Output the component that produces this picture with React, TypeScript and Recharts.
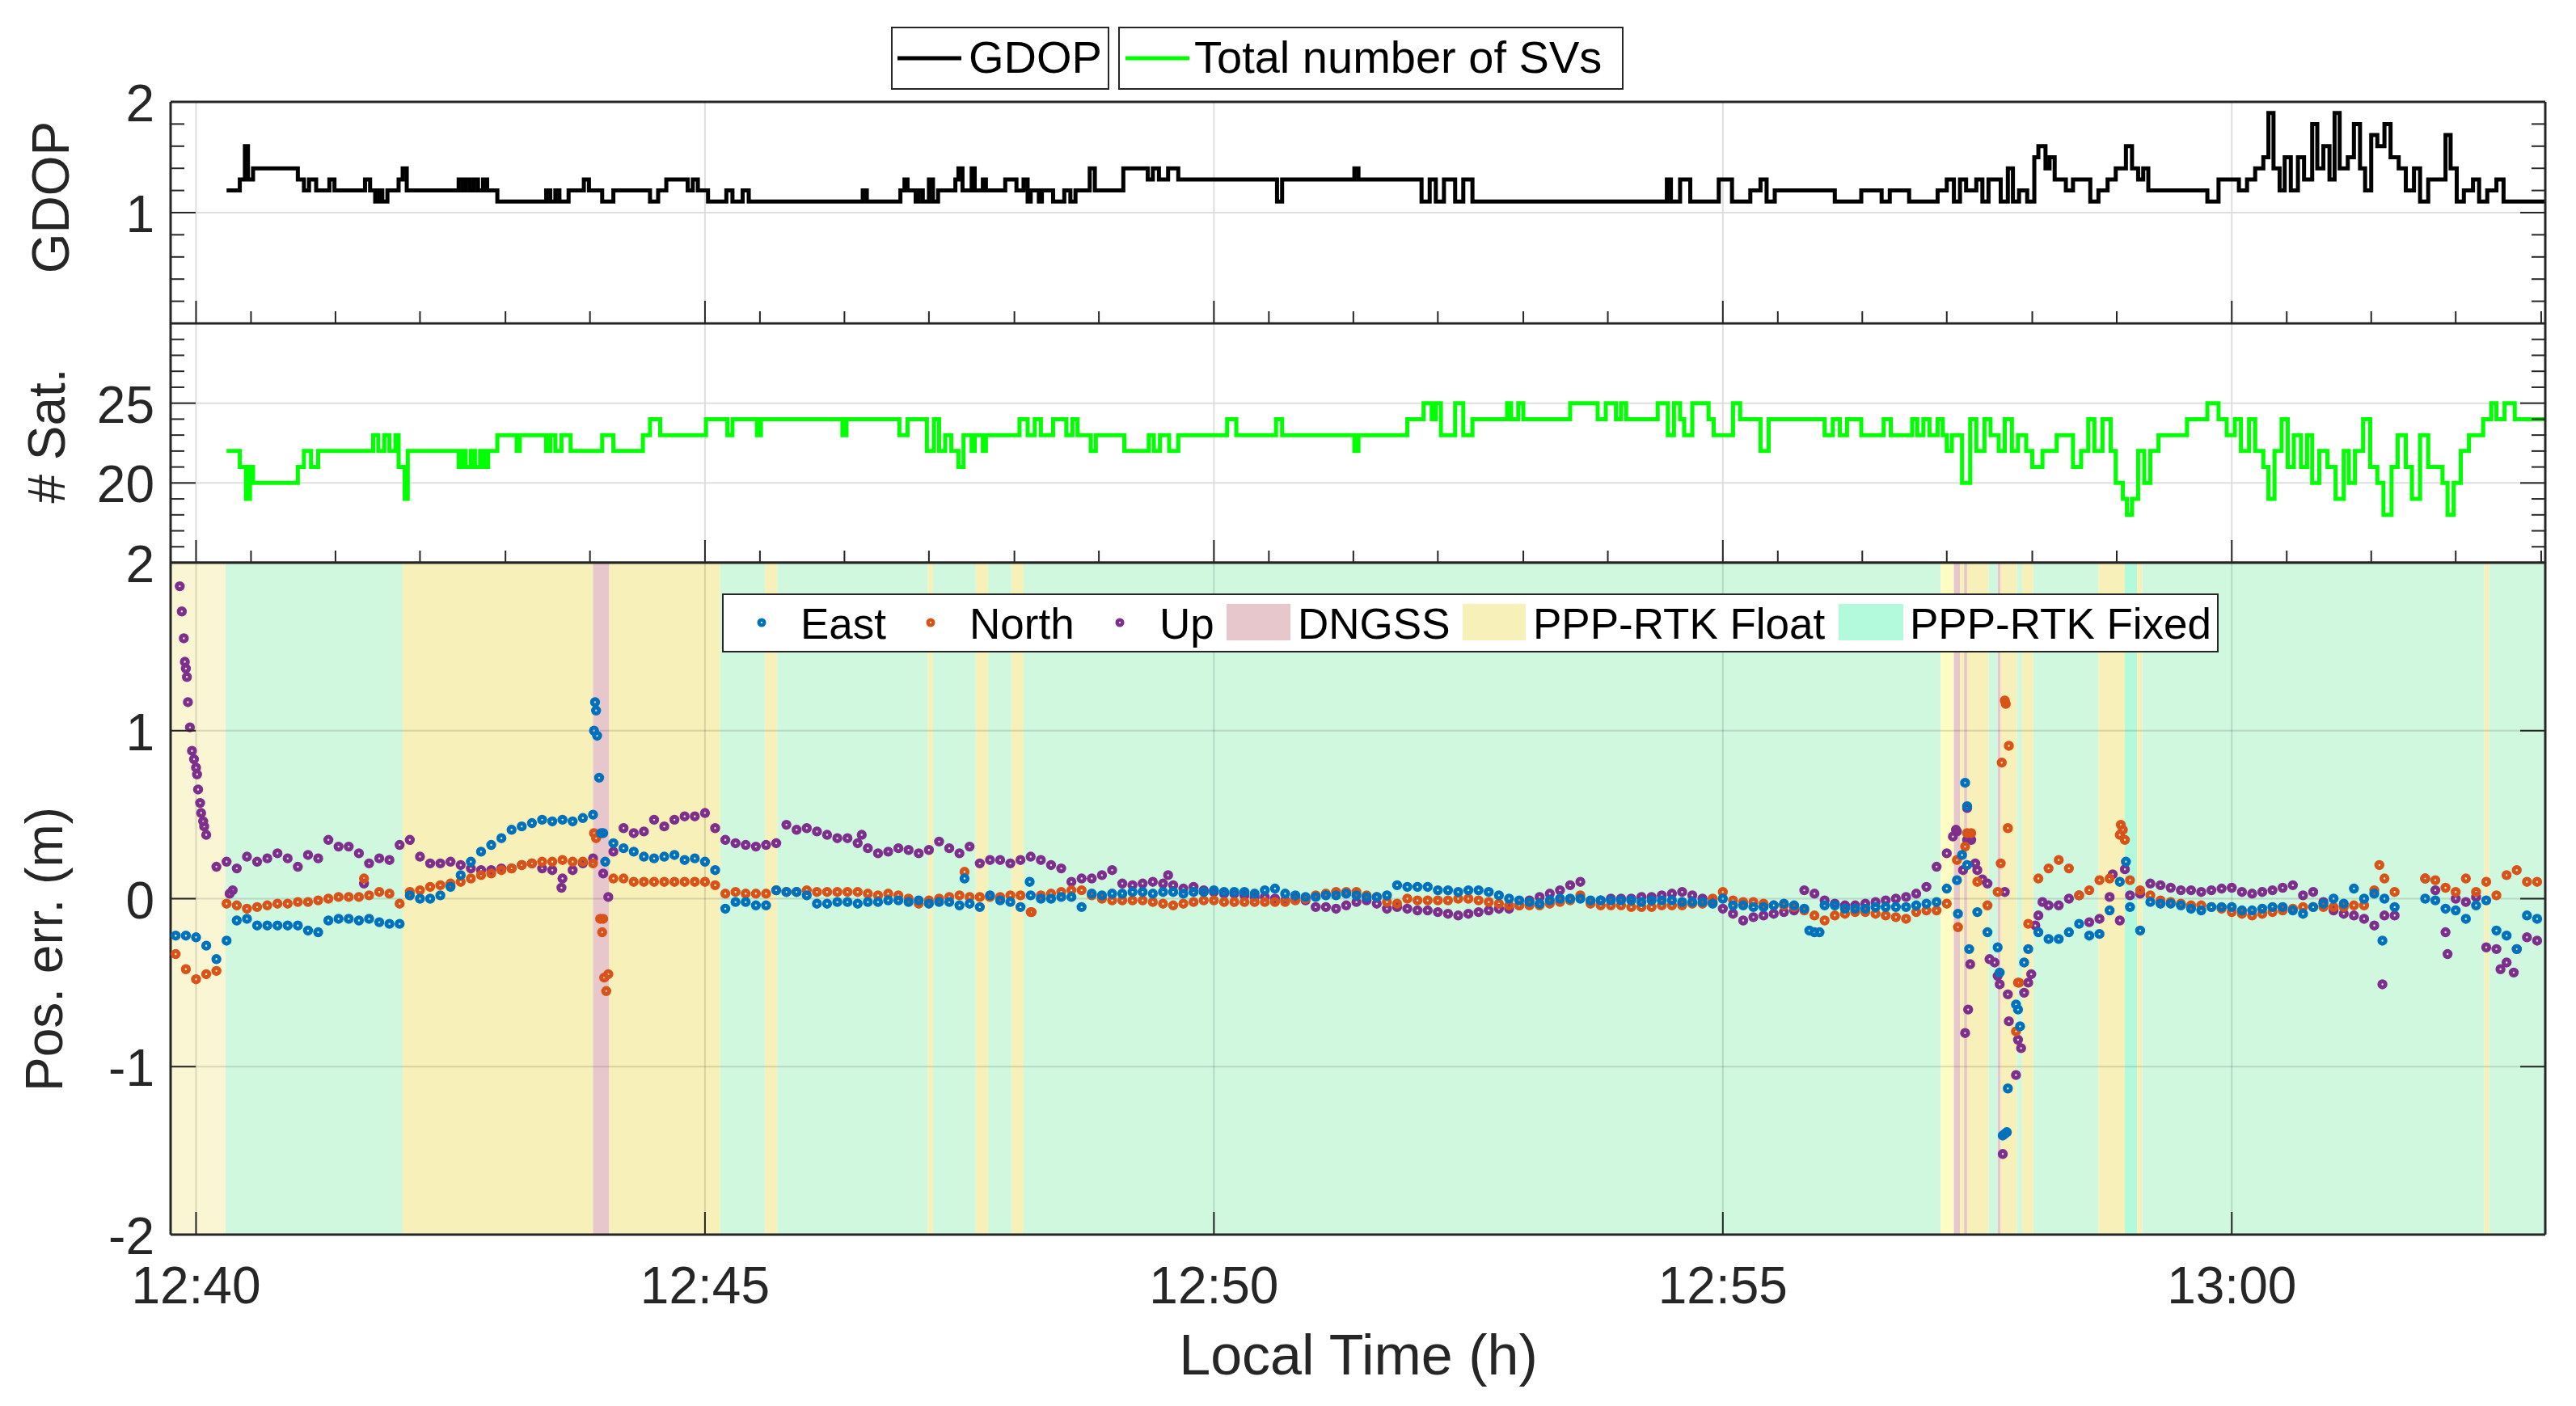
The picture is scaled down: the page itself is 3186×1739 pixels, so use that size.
import { ComposedChart, Line, ReferenceArea, ReferenceLine, Scatter, XAxis, YAxis } from 'recharts';

const FONT = '"Liberation Sans", Arial, Helvetica, sans-serif';
const INK = '#262626';
const PAGE_W = 3186;
const PAGE_H = 1739;
const PLOT_RIGHT = 3148;
const Y_AXIS_W = 211;
const TICK_GAP = 10;

// time axis in minutes after 12:40
const T_MIN = -0.25;
const T_MAX = 23.08;
const majorTicks = [0, 5, 10, 15, 20];
const tickLabels = ['12:40', '12:45', '12:50', '12:55', '13:00'];
const minorTicks = [0.54, 1.37, 2.2, 3.04, 3.87, 5.54, 6.37, 7.2, 8.04, 8.87, 10.54, 11.37, 12.2, 13.04, 13.87, 15.54, 16.37, 17.2, 18.04, 18.87, 20.54, 21.37, 22.2, 23.04];

const gdopMajor = [1, 2];
const gdopMinor = [0.2, 0.4, 0.6, 0.8, 1.2, 1.4, 1.6, 1.8];
const satMajor = [20, 25];
const satMinor = [16, 17, 18, 19, 21, 22, 23, 24, 26, 27, 28, 29];
const errMajor = [-2, -1, 0, 1, 2];

// GDOP (step changes)
const gdopTime = [
  0.3, 0.43, 0.48, 0.51, 0.56, 1.0, 1.06, 1.11, 1.18, 1.31,
  1.36, 1.66, 1.71, 1.76, 1.8, 1.83, 1.88, 1.99, 2.03, 2.07,
  2.58, 2.62, 2.65, 2.69, 2.73, 2.77, 2.82, 2.86, 2.96, 3.44,
  3.48, 3.53, 3.57, 3.66, 3.81, 3.86, 3.99, 4.1, 4.46, 4.54,
  4.62, 4.83, 4.88, 4.93, 5.03, 5.21, 5.27, 5.37, 5.43, 6.55,
  6.59, 6.92, 6.96, 6.99, 7.07, 7.1, 7.14, 7.2, 7.24, 7.29,
  7.46, 7.49, 7.53, 7.62, 7.65, 7.73, 7.76, 7.95, 8.06, 8.13,
  8.17, 8.2, 8.28, 8.31, 8.42, 8.53, 8.59, 8.64, 8.78, 8.83,
  9.11, 9.35, 9.4, 9.46, 9.55, 9.65, 10.62, 10.67, 11.38, 11.42,
  12.04, 12.12, 12.18, 12.26, 12.37, 12.45, 12.54, 14.45, 14.49, 14.58,
  14.68, 14.96, 15.09, 15.27, 15.37, 15.43, 15.51, 16.1, 16.36, 16.56,
  16.64, 16.83, 17.11, 17.2, 17.27, 17.33, 17.39, 17.49, 17.55, 17.61,
  17.73, 17.8, 17.85, 17.91, 17.99, 18.06, 18.1, 18.17, 18.21, 18.26,
  18.37, 18.44, 18.61, 18.69, 18.78, 18.86, 18.96, 19.02, 19.08, 19.13,
  19.18, 19.76, 19.87, 20.07, 20.15, 20.23, 20.31, 20.36, 20.41, 20.47,
  20.52, 20.58, 20.65, 20.71, 20.79, 20.84, 20.9, 20.96, 21.01, 21.06,
  21.14, 21.2, 21.26, 21.31, 21.37, 21.43, 21.5, 21.56, 21.64, 21.71,
  21.79, 21.85, 21.93, 22.1, 22.15, 22.21, 22.28, 22.37, 22.43, 22.51,
  22.6, 22.67, 23.08,
];
const gdopValue = [
  1.2, 1.3, 1.6, 1.3, 1.4, 1.3, 1.2, 1.3, 1.2, 1.3,
  1.2, 1.3, 1.2, 1.1, 1.2, 1.1, 1.2, 1.3, 1.4, 1.2,
  1.3, 1.2, 1.3, 1.2, 1.3, 1.2, 1.3, 1.2, 1.1, 1.2,
  1.1, 1.2, 1.1, 1.2, 1.3, 1.2, 1.1, 1.2, 1.1, 1.2,
  1.3, 1.2, 1.3, 1.2, 1.1, 1.2, 1.1, 1.2, 1.1, 1.2,
  1.1, 1.2, 1.3, 1.2, 1.1, 1.2, 1.1, 1.3, 1.1, 1.2,
  1.3, 1.4, 1.2, 1.4, 1.2, 1.3, 1.2, 1.3, 1.2, 1.3,
  1.1, 1.2, 1.1, 1.2, 1.1, 1.2, 1.1, 1.2, 1.4, 1.2,
  1.4, 1.3, 1.4, 1.3, 1.4, 1.3, 1.1, 1.3, 1.4, 1.3,
  1.1, 1.3, 1.1, 1.3, 1.1, 1.3, 1.1, 1.3, 1.1, 1.3,
  1.1, 1.3, 1.1, 1.2, 1.3, 1.1, 1.2, 1.1, 1.2, 1.1,
  1.2, 1.1, 1.2, 1.3, 1.1, 1.3, 1.2, 1.3, 1.1, 1.3,
  1.1, 1.4, 1.1, 1.2, 1.1, 1.5, 1.6, 1.4, 1.5, 1.3,
  1.2, 1.3, 1.1, 1.2, 1.3, 1.4, 1.6, 1.4, 1.3, 1.4,
  1.2, 1.1, 1.3, 1.2, 1.3, 1.4, 1.5, 1.9, 1.4, 1.2,
  1.5, 1.2, 1.5, 1.3, 1.8, 1.4, 1.6, 1.3, 1.9, 1.4,
  1.5, 1.8, 1.4, 1.2, 1.7, 1.6, 1.8, 1.5, 1.4, 1.2,
  1.4, 1.1, 1.3, 1.7, 1.4, 1.1, 1.2, 1.3, 1.1, 1.2,
  1.3, 1.1, 1.1,
];

// total number of SVs (step changes)
const satTime = [
  0.3, 0.43, 0.49, 0.53, 0.56, 1.0, 1.06, 1.13, 1.2, 1.74,
  1.79, 1.85, 1.9, 1.96, 1.99, 2.05, 2.08, 2.58, 2.62, 2.65,
  2.7, 2.74, 2.79, 2.83, 2.87, 2.96, 3.15, 3.18, 3.44, 3.48,
  3.53, 3.59, 3.68, 3.99, 4.1, 4.39, 4.46, 4.56, 5.01, 5.22,
  5.27, 5.51, 5.55, 6.35, 6.39, 6.91, 6.99, 7.18, 7.25, 7.3,
  7.36, 7.42, 7.49, 7.54, 7.62, 7.65, 7.73, 7.76, 8.09, 8.17,
  8.24, 8.3, 8.42, 8.55, 8.61, 8.66, 8.79, 8.84, 9.12, 9.36,
  9.41, 9.47, 9.56, 9.65, 10.13, 10.22, 10.61, 10.67, 11.38, 11.42,
  11.9, 12.06, 12.14, 12.18, 12.23, 12.37, 12.45, 12.54, 12.88, 12.92,
  12.99, 13.04, 13.5, 13.77, 13.85, 13.95, 14.0, 14.05, 14.36, 14.46,
  14.52, 14.58, 14.62, 14.7, 14.86, 14.91, 15.1, 15.17, 15.37, 15.45,
  16.0, 16.08, 16.15, 16.22, 16.36, 16.58, 16.65, 16.86, 16.91, 16.97,
  17.03, 17.11, 17.16, 17.2, 17.25, 17.35, 17.43, 17.49, 17.57, 17.63,
  17.71, 17.77, 17.84, 17.9, 17.98, 18.04, 18.14, 18.28, 18.44, 18.52,
  18.59, 18.65, 18.73, 18.81, 18.86, 18.93, 18.97, 19.02, 19.08, 19.14,
  19.2, 19.28, 19.56, 19.76, 19.87, 19.95, 20.03, 20.09, 20.17, 20.23,
  20.31, 20.36, 20.42, 20.49, 20.55, 20.61, 20.68, 20.74, 20.79, 20.86,
  20.94, 21.02, 21.1, 21.15, 21.21, 21.29, 21.36, 21.43, 21.49, 21.57,
  21.63, 21.71, 21.77, 21.85, 21.93, 22.07, 22.12, 22.18, 22.25, 22.33,
  22.47, 22.55, 22.6, 22.68, 22.78, 23.08,
];
const satCount = [
  22, 21, 19, 21, 20, 21, 22, 21, 22, 23,
  22, 23, 22, 23, 21, 19, 22, 21, 22, 21,
  22, 21, 22, 21, 22, 23, 22, 23, 22, 23,
  22, 23, 22, 23, 22, 23, 24, 23, 24, 23,
  24, 23, 24, 23, 24, 23, 24, 22, 24, 22,
  23, 22, 21, 23, 22, 23, 22, 23, 24, 23,
  24, 23, 24, 23, 24, 23, 22, 23, 22, 23,
  22, 23, 22, 23, 24, 23, 24, 23, 22, 23,
  24, 25, 24, 25, 23, 25, 23, 24, 25, 24,
  25, 24, 25, 24, 25, 24, 25, 24, 25, 23,
  25, 24, 23, 25, 24, 23, 25, 24, 22, 24,
  23, 24, 23, 24, 23, 24, 23, 24, 23, 24,
  23, 24, 23, 22, 23, 20, 24, 22, 24, 23,
  22, 24, 22, 23, 22, 21, 22, 23, 21, 22,
  24, 22, 24, 22, 20, 19, 18, 19, 22, 20,
  22, 23, 24, 25, 24, 23, 24, 22, 24, 22,
  21, 19, 22, 24, 21, 23, 21, 23, 20, 22,
  21, 19, 22, 20, 22, 24, 21, 20, 18, 21,
  23, 21, 19, 23, 21, 20, 18, 20, 22, 23,
  24, 25, 24, 25, 24, 24,
];

// position error samples (m), one row per minute
const errTime = [
  -0.2, -0.1,
  0, 0.1, 0.2, 0.3, 0.4, 0.5, 0.6, 0.7, 0.8, 0.9,
  1, 1.1, 1.2, 1.3, 1.4, 1.5, 1.6, 1.7, 1.8, 1.9,
  2, 2.1, 2.2, 2.3, 2.4, 2.5, 2.6, 2.7, 2.8, 2.9,
  3, 3.1, 3.2, 3.3, 3.4, 3.5, 3.6, 3.7, 3.8, 3.9,
  4, 4.1, 4.2, 4.3, 4.4, 4.5, 4.6, 4.7, 4.8, 4.9,
  5, 5.1, 5.2, 5.3, 5.4, 5.5, 5.6, 5.7, 5.8, 5.9,
  6, 6.1, 6.2, 6.3, 6.4, 6.5, 6.6, 6.7, 6.8, 6.9,
  7, 7.1, 7.2, 7.3, 7.4, 7.5, 7.6, 7.7, 7.8, 7.9,
  8, 8.1, 8.2, 8.3, 8.4, 8.5, 8.6, 8.7, 8.8, 8.9,
  9, 9.1, 9.2, 9.3, 9.4, 9.5, 9.6, 9.7, 9.8, 9.9,
  10, 10.1, 10.2, 10.3, 10.4, 10.5, 10.6, 10.7, 10.8, 10.9,
  11, 11.1, 11.2, 11.3, 11.4, 11.5, 11.6, 11.7, 11.8, 11.9,
  12, 12.1, 12.2, 12.3, 12.4, 12.5, 12.6, 12.7, 12.8, 12.9,
  13, 13.1, 13.2, 13.3, 13.4, 13.5, 13.6, 13.7, 13.8, 13.9,
  14, 14.1, 14.2, 14.3, 14.4, 14.5, 14.6, 14.7, 14.8, 14.9,
  15, 15.1, 15.2, 15.3, 15.4, 15.5, 15.6, 15.7, 15.8, 15.9,
  16, 16.1, 16.2, 16.3, 16.4, 16.5, 16.6, 16.7, 16.8, 16.9,
  17, 17.1, 17.2, 17.3, 17.4, 17.5, 17.6, 17.7, 17.8, 17.9,
  18, 18.1, 18.2, 18.3, 18.4, 18.5, 18.6, 18.7, 18.8, 18.9,
  19, 19.1, 19.2, 19.3, 19.4, 19.5, 19.6, 19.7, 19.8, 19.9,
  20, 20.1, 20.2, 20.3, 20.4, 20.5, 20.6, 20.7, 20.8, 20.9,
  21, 21.1, 21.2, 21.3, 21.4, 21.5, 21.6, 21.7, 21.8, 21.9,
  22, 22.1, 22.2, 22.3, 22.4, 22.5, 22.6, 22.7, 22.8, 22.9,
  23,
];
const eastErr = [
  -0.22, -0.22,
  -0.23, -0.28, -0.36, -0.25, -0.13, -0.12, -0.16, -0.16, -0.16, -0.16,
  -0.16, -0.19, -0.2, -0.13, -0.12, -0.12, -0.13, -0.12, -0.14, -0.15,
  -0.15, 0.02, 0, 0, 0.02, 0.07, 0.14, 0.22, 0.28, 0.32,
  0.36, 0.41, 0.43, 0.45, 0.47, 0.46, 0.47, 0.46, 0.48, 0.5,
  0.39, 0.33, 0.3, 0.28, 0.25, 0.24, 0.25, 0.26, 0.23, 0.24,
  0.22, 0.17, -0.06, -0.02, -0.02, -0.04, -0.04, 0.05, 0.04, 0.04,
  0.02, -0.03, -0.03, -0.02, -0.02, -0.03, -0.02, -0.02, -0.01, -0.01,
  -0.02, -0.01, -0.03, -0.02, -0.02, -0.04, -0.03, -0.05, 0.02, -0.01,
  -0.02, -0.05, 0.02, 0, 0, 0.01, 0.01, -0.05, 0.03, 0.02,
  0.03, 0.03, 0.04, 0.04, 0.03, 0.04, 0.04, 0.03, 0.04, 0.04,
  0.05, 0.04, 0.04, 0.04, 0.03, 0.05, 0.06, 0.03, 0.02, 0.01,
  0.01, 0.02, 0.02, 0.03, 0.02, 0.01, 0.01, 0.02, 0.08, 0.07,
  0.07, 0.07, 0.05, 0.05, 0.04, 0.05, 0.05, 0.04, 0.02, 0,
  -0.01, -0.02, -0.03, -0.01, 0, 0, 0, -0.01, -0.01, -0.01,
  -0.01, -0.01, -0.02, -0.01, -0.01, -0.01, -0.02, -0.02, -0.02, -0.03,
  0, -0.04, -0.04, -0.05, -0.05, -0.04, -0.03, -0.04, -0.06, -0.2,
  -0.04, -0.04, -0.06, -0.06, -0.06, -0.05, -0.05, -0.05, -0.05, -0.04,
  -0.03, -0.02, 0.06, 0.11, 0.2, -0.08, -0.2, -0.29, -1.13, -0.66,
  -0.3, -0.2, -0.24, -0.24, -0.2, -0.15, -0.22, -0.21, -0.07, 0.1,
  -0.05, -0.19, -0.02, -0.03, -0.03, -0.04, -0.06, -0.07, -0.05, -0.05,
  -0.05, -0.07, -0.07, -0.06, -0.05, -0.05, -0.07, -0.09, -0.05, -0.03,
  0, -0.03, 0.06, 0, 0.03, 0, -0.05, null, null, 0,
  -0.01, -0.06, -0.07, -0.12, -0.04, -0.01, -0.19, -0.22, -0.3, -0.1,
  -0.12,
];
const northErr = [
  -0.33, -0.42,
  -0.48, -0.45, -0.43, -0.03, -0.04, -0.06, -0.05, -0.04, -0.03, -0.03,
  -0.02, -0.02, -0.01, 0, 0.01, 0.01, 0.01, 0.02, 0.04, 0.03,
  -0.03, 0.04, 0.05, 0.07, 0.08, 0.09, 0.1, 0.12, 0.14, 0.15,
  0.17, 0.18, 0.2, 0.21, 0.22, 0.22, 0.23, 0.22, 0.22, 0.21,
  -0.12, 0.12, 0.12, 0.1, 0.1, 0.1, 0.1, 0.1, 0.1, 0.1,
  0.1, 0.08, 0.03, 0.04, 0.03, 0.03, 0.03, 0.05, 0.04, 0.04,
  0.05, 0.04, 0.04, 0.04, 0.04, 0.04, 0.03, 0.02, 0.03, 0.02,
  0, -0.03, -0.01, 0, 0.01, 0.02, 0.01, 0.01, 0.01, 0.01,
  0.02, 0.02, -0.08, 0.02, 0.03, 0.04, 0.05, 0.05, 0.02, 0,
  -0.01, -0.01, -0.01, -0.01, -0.02, -0.03, -0.04, -0.03, -0.02, -0.01,
  -0.01, -0.02, -0.02, -0.02, -0.02, -0.02, -0.02, -0.02, -0.01, 0,
  0.02, 0.03, 0.04, 0.04, 0.04, 0.02, 0.01, -0.02, -0.03, 0,
  -0.01, -0.01, -0.01, -0.01, 0, 0, -0.01, -0.02, -0.03, -0.04,
  -0.04, -0.04, -0.04, -0.03, -0.02, -0.01, 0.02, -0.03, -0.04, -0.04,
  -0.04, -0.05, -0.05, -0.05, -0.04, -0.04, -0.04, -0.03, -0.03, 0,
  0.04, -0.01, -0.02, -0.02, -0.03, -0.04, -0.04, -0.05, -0.07, -0.1,
  -0.13, -0.1, -0.09, -0.08, -0.08, -0.09, -0.1, -0.11, -0.12, -0.08,
  -0.07, -0.07, -0.03, 0.23, 0.39, 0.1, -0.04, 0.04, 0.42, -0.5,
  -0.15, 0.12, 0.18, 0.23, 0.18, 0.02, 0.05, 0.11, 0.12, 0.38,
  0.11, 0.05, 0.02, -0.01, -0.02, -0.03, -0.04, -0.04, -0.05, -0.06,
  -0.08, -0.09, -0.1, -0.09, -0.08, -0.07, -0.06, -0.05, -0.05, -0.05,
  -0.05, -0.05, -0.04, -0.04, 0.05, 0.12, 0.04, null, null, 0.12,
  0.11, 0.065, 0.04, 0.12, 0.04, 0.1, 0.02, 0.14, 0.17, 0.1,
  0.1,
];
const upErr = [
  null, 1.37,
  0.78, 0.38, 0.19, 0.22, 0.18, 0.25, 0.22, 0.24, 0.27, 0.24,
  0.19, 0.26, 0.24, 0.35, 0.31, 0.31, 0.27, 0.21, 0.24, 0.23,
  0.32, 0.35, 0.25, 0.21, 0.21, 0.22, 0.2, 0.18, 0.17, 0.17,
  0.18, 0.18, 0.2, 0.21, 0.18, 0.17, 0.12, 0.17, 0.21, 0.24,
  0.15, 0.28, 0.42, 0.39, 0.4, 0.47, 0.43, 0.47, 0.49, 0.49,
  0.51, 0.42, 0.35, 0.33, 0.32, 0.31, 0.32, 0.33, 0.44, 0.41,
  0.42, 0.4, 0.38, 0.36, 0.36, 0.33, 0.3, 0.27, 0.28, 0.3,
  0.29, 0.27, 0.29, 0.34, 0.3, 0.27, 0.31, 0.21, 0.23, 0.23,
  0.21, 0.23, 0.25, 0.23, 0.2, 0.18, 0.1, 0.12, 0.12, 0.14,
  0.17, 0.09, 0.08, 0.09, 0.1, 0.09, 0.08, 0.06, 0.07, 0.05,
  0.04, 0.03, 0.03, 0.02, 0.01, 0.01, 0, -0.01, 0, -0.01,
  -0.05, -0.05, -0.06, -0.04, -0.02, -0.01, -0.03, -0.06, -0.05, -0.06,
  -0.07, -0.07, -0.08, -0.09, -0.1, -0.09, -0.08, -0.07, -0.06, -0.06,
  -0.04, -0.01, 0.01, 0.03, 0.05, 0.08, 0.1, -0.02, -0.01, 0,
  0, 0, 0.01, 0.01, 0.02, 0.03, 0.04, 0.02, 0, -0.02,
  -0.06, -0.09, -0.13, -0.11, -0.1, -0.09, -0.08, -0.07, 0.05, 0.03,
  -0.01, -0.03, -0.04, -0.04, -0.03, -0.02, -0.01, 0, 0.01, 0.03,
  0.07, 0.19, 0.27, 0.4, 0.35, 0.17, 0.09, -0.46, -0.57, -0.84,
  -0.5, -0.1, -0.04, -0.04, 0, 0.02, -0.14, -0.12, 0.01, -0.13,
  0.02, 0.03, 0.09, 0.08, 0.065, 0.05, 0.05, 0.04, 0.05, 0.06,
  0.065, 0.04, 0.03, 0.04, 0.05, 0.065, 0.08, 0.02, 0.04, -0.02,
  -0.07, -0.09, -0.1, -0.12, -0.16, -0.1, -0.1, null, null, 0.12,
  0.05, -0.2, 0, -0.02, 0.01, -0.29, -0.3, -0.38, -0.3, -0.23,
  -0.25,
];

// isolated samples during convergence and re-initialisation
const eastExtraTime = [3.91, 3.92, 3.93, 3.94, 3.96, 3.98, 4.02, 7.55, 8.19, 15.85, 15.95, 17.31, 17.35, 17.38, 17.4, 17.42, 17.72, 17.75, 17.77, 17.79, 17.88, 17.92, 17.96, 18.96, 21.48];
const eastExtraErr = [1.0, 1.17, 1.12, 0.97, 0.72, 0.39, 0.22, 0.12, 0.1, -0.19, -0.2, -0.09, 0.26, 0.69, 0.55, -0.3, -0.44, -1.41, -1.4, -1.39, -0.63, -0.76, -0.38, 0.22, -0.25];
const northExtraTime = [1.65, 3.91, 3.93, 3.97, 3.99, 4.01, 4.03, 4.05, 7.55, 8.21, 17.31, 17.38, 17.44, 17.73, 17.74, 17.77, 17.78, 17.81, 17.88, 17.91, 18.91, 18.93, 18.95, 21.45];
const northExtraErr = [0.12, 0.39, 0.36, -0.12, -0.2, -0.47, -0.55, -0.45, 0.16, -0.08, -0.17, 0.31, 0.39, 0.21, 0.81, 1.18, 1.16, 0.91, -0.79, -0.5, 0.44, 0.41, 0.35, 0.2];
const upExtraTime = [-0.16, -0.14, -0.12, -0.11, -0.09, -0.08, -0.06, -0.04, -0.02, 0.01, 0.02, 0.04, 0.05, 0.07, 0.08, 0.33, 0.36, 1.65, 3.59, 4.05, 6.54, 9.55, 17.26, 17.29, 17.36, 17.38, 17.4, 17.41, 17.43, 17.44, 17.48, 17.55, 17.62, 17.67, 17.72, 17.75, 17.77, 17.81, 17.88, 17.93, 17.96, 18.03, 18.07, 18.14, 18.83, 18.95, 21.48, 22.12, 22.64, 22.77];
const upExtraErr = [1.86, 1.71, 1.55, 1.41, 1.32, 1.17, 1.02, 0.88, 0.83, 0.74, 0.65, 0.57, 0.51, 0.46, 0.43, 0.03, 0.05, 0.09, 0.065, 0.01, 0.38, 0.14, 0.37, 0.41, 0.17, -0.8, 0.54, -0.66, -0.39, 0.35, 0.21, 0.115, -0.36, -0.38, -0.51, -1.52, 0.04, -0.73, -1.05, -0.89, -0.56, -0.45, -0.16, -0.02, 0.145, 0.175, -0.51, -0.33, -0.42, -0.44];

// solution mode intervals
const bandStart = [-0.25, 0.29, 2.03, 3.9, 4.06, 5.15, 5.59, 5.71, 7.19, 7.24, 7.66, 7.78, 8.01, 8.13, 17.14, 17.27, 17.33, 17.37, 17.4, 17.61, 17.7, 17.73, 17.89, 17.94, 18.05, 18.69, 18.95, 19.07, 19.12, 22.48, 22.53];
const bandEnd = [0.29, 2.03, 3.9, 4.06, 5.15, 5.59, 5.71, 7.19, 7.24, 7.66, 7.78, 8.01, 8.13, 17.14, 17.27, 17.33, 17.37, 17.4, 17.61, 17.7, 17.73, 17.89, 17.94, 18.05, 18.69, 18.95, 19.07, 19.12, 22.48, 22.53, 23.08];
const bandMode = ['start', 'fixed', 'float', 'dngss', 'float', 'fixed', 'float', 'fixed', 'float', 'fixed', 'float', 'fixed', 'float', 'fixed', 'lemon', 'dngss', 'float', 'dngss', 'float', 'fixed', 'dngss', 'float', 'fixed', 'float', 'fixed', 'float', 'fixedHi', 'float', 'fixed', 'float', 'fixed'];

const BAND_FILL: Record<string, string> = {
  start: '#FAF6D3',
  fixed: '#CFF8DF',
  float: '#F7F0B8',
  dngss: '#E7C7CB',
  lemon: '#FDFDC3',
  fixedHi: '#B3F9DC',
};

const EAST = '#0072BD';
const NORTH = '#D95319';
const UP = '#7E2F8E';

type Pt = { t: number; v: number };

function toPoints(times: number[], values: (number | null)[]): Pt[] {
  const pts: Pt[] = [];
  times.forEach((t, i) => {
    const v = values[i];
    if (v !== null && v !== undefined) pts.push({ t, v });
  });
  return pts;
}

const gdopPoints = toPoints(gdopTime, gdopValue);
const satPoints = toPoints(satTime, satCount);
const eastPoints = [...toPoints(errTime, eastErr), ...toPoints(eastExtraTime, eastExtraErr)];
const northPoints = [...toPoints(errTime, northErr), ...toPoints(northExtraTime, northExtraErr)];
const upPoints = [...toPoints(errTime, upErr), ...toPoints(upExtraTime, upExtraErr)];

const allTimeTicks = [...majorTicks, ...minorTicks].sort((a, b) => a - b);
const gdopTicks = [...gdopMajor, ...gdopMinor].sort((a, b) => a - b);
const satTicks = [...satMajor, ...satMinor].sort((a, b) => a - b);

// thick rings with a tiny hole, like MATLAB 'o' markers at this size
const RING_R = 3.7;
const RING_W = 5;
const ring = (color: string) => (props: any) => (
  <circle cx={props.cx} cy={props.cy} r={RING_R} fill="none" stroke={color} strokeWidth={RING_W} />
);

const axisLine = { stroke: INK, strokeWidth: 3 };
const tickText = { fill: INK, fontSize: 64, fontFamily: FONT };

// MATLAB-style inward tick marks, labels only on major values
function TimeTick(props: any) {
  const { x, y, payload, side, labelled } = props;
  const idx = majorTicks.indexOf(payload.value);
  const len = idx >= 0 ? 28 : 15;
  const edge = side === 'bottom' ? y - TICK_GAP : y + TICK_GAP;
  const dir = side === 'bottom' ? -1 : 1;
  return (
    <g>
      <line x1={x} x2={x} y1={edge} y2={edge + dir * len} stroke={INK} strokeWidth={2} />
      {labelled && idx >= 0 && (
        <text x={x} y={edge + 85} textAnchor="middle" {...tickText}>{tickLabels[idx]}</text>
      )}
    </g>
  );
}

function ValueTick(props: any) {
  const { x, y, payload, side, majors } = props;
  const major = majors.includes(payload.value);
  const len = major ? 31 : 17;
  const edge = side === 'left' ? x + TICK_GAP : x - TICK_GAP;
  const dir = side === 'left' ? 1 : -1;
  return (
    <g>
      <line x1={edge} x2={edge + dir * len} y1={y} y2={y} stroke={INK} strokeWidth={2} />
      {side === 'left' && major && (
        <text x={edge - 20} y={y + 24} textAnchor="end" {...tickText}>{payload.value}</text>
      )}
    </g>
  );
}

function timeAxes(ticks: number[], labelled: boolean, bottomHeight: number) {
  return [
    <XAxis key="x" xAxisId="x" dataKey="t" type="number" domain={[T_MIN, T_MAX]} allowDataOverflow ticks={ticks}
      interval={0} tick={<TimeTick side="bottom" labelled={labelled} />} tickLine={false} tickSize={0}
      tickMargin={TICK_GAP} axisLine={axisLine} height={bottomHeight} />,
    <XAxis key="xt" xAxisId="xt" orientation="top" type="number" domain={[T_MIN, T_MAX]} allowDataOverflow ticks={ticks}
      interval={0} tick={<TimeTick side="top" labelled={false} />} tickLine={false} tickSize={0}
      tickMargin={TICK_GAP} axisLine={axisLine} height={1} />,
  ];
}

function valueAxes(domain: [number, number], ticks: number[], majors: number[]) {
  return [
    <YAxis key="y" yAxisId="y" type="number" domain={domain} allowDataOverflow ticks={ticks} interval={0}
      tick={<ValueTick side="left" majors={majors} />} tickLine={false} tickSize={0} tickMargin={TICK_GAP}
      axisLine={axisLine} width={Y_AXIS_W} />,
    <YAxis key="yr" yAxisId="yr" orientation="right" type="number" domain={domain} allowDataOverflow ticks={ticks}
      interval={0} tick={<ValueTick side="right" majors={majors} />} tickLine={false} tickSize={0}
      tickMargin={TICK_GAP} axisLine={axisLine} width={1} />,
  ];
}

function gridLines(yValues: number[], stroke: string, opacity: number) {
  return [
    ...majorTicks.map((t) => (
      <ReferenceLine key={`gx-${t}`} xAxisId="x" yAxisId="y" x={t} stroke={stroke} strokeOpacity={opacity} strokeWidth={2} />
    )),
    ...yValues.map((v) => (
      <ReferenceLine key={`gy-${v}`} xAxisId="x" yAxisId="y" y={v} stroke={stroke} strokeOpacity={opacity} strokeWidth={2} />
    )),
  ];
}

const RIGHT_MARGIN = PAGE_W - PLOT_RIGHT - 1;

function GdopPanel() {
  return (
    <ComposedChart width={PAGE_W} height={401} margin={{ top: 125, right: RIGHT_MARGIN, bottom: 0, left: 0 }}>
      {timeAxes(allTimeTicks, false, 1)}
      {valueAxes([0, 2], gdopTicks, gdopMajor)}
      {gridLines([1], '#DEDEDE', 1)}
      <Line data={gdopPoints} dataKey="v" xAxisId="x" yAxisId="y" type="stepAfter" stroke="#000000" strokeWidth={5}
        dot={false} isAnimationActive={false} />
    </ComposedChart>
  );
}

function SatPanel() {
  return (
    <ComposedChart width={PAGE_W} height={298} margin={{ top: 0, right: RIGHT_MARGIN, bottom: 0, left: 0 }}>
      {timeAxes(allTimeTicks, false, 1)}
      {valueAxes([15, 30], satTicks, satMajor)}
      {gridLines([20, 25], '#DEDEDE', 1)}
      <Line data={satPoints} dataKey="v" xAxisId="x" yAxisId="y" type="stepAfter" stroke="#00FF00" strokeWidth={5}
        dot={false} isAnimationActive={false} />
    </ComposedChart>
  );
}

function ErrorPanel() {
  return (
    <ComposedChart width={PAGE_W} height={PAGE_H - 646} margin={{ top: 49, right: RIGHT_MARGIN, bottom: 0, left: 0 }}>
      {timeAxes(majorTicks, true, PAGE_H - 1527)}
      {valueAxes([-2, 2], errMajor, errMajor)}
      {bandStart.map((s, i) => (
        <ReferenceArea key={`band-${i}`} xAxisId="x" yAxisId="y" x1={s} x2={bandEnd[i]} y1={-2} y2={2}
          fill={BAND_FILL[bandMode[i]]} fillOpacity={1} stroke="none" />
      ))}
      {gridLines([-1, 0, 1], INK, 0.15)}
      <Scatter data={upPoints} dataKey="v" xAxisId="x" yAxisId="y" shape={ring(UP)} isAnimationActive={false} />
      <Scatter data={northPoints} dataKey="v" xAxisId="x" yAxisId="y" shape={ring(NORTH)} isAnimationActive={false} />
      <Scatter data={eastPoints} dataKey="v" xAxisId="x" yAxisId="y" shape={ring(EAST)} isAnimationActive={false} />
    </ComposedChart>
  );
}

function Overlay() {
  const txt = { fontFamily: FONT, fill: '#000000' };
  return (
    <svg width={PAGE_W} height={PAGE_H} style={{ position: 'absolute', left: 0, top: 0, pointerEvents: 'none' }}>
      {/* axis titles */}
      <text x={85} y={244} transform="rotate(-90 85 244)" textAnchor="middle" fontSize={64} fontFamily={FONT} fill={INK}>GDOP</text>
      <text x={80} y={539} transform="rotate(-90 80 539)" textAnchor="middle" fontSize={64} fontFamily={FONT} fill={INK}># Sat.</text>
      <text x={77} y={1174} transform="rotate(-90 77 1174)" textAnchor="middle" fontSize={64} fontFamily={FONT} fill={INK}>Pos. err. (m)</text>
      <text x={1680} y={1700} textAnchor="middle" fontSize={70} fontFamily={FONT} fill={INK}>Local Time (h)</text>

      {/* top legends */}
      <rect x={1103} y={34} width={268} height={76} fill="#ffffff" stroke={INK} strokeWidth={2} />
      <line x1={1110} x2={1189} y1={72} y2={72} stroke="#000000" strokeWidth={5} />
      <text x={1198} y={90} fontSize={56} {...txt}>GDOP</text>
      <rect x={1384} y={34} width={623} height={76} fill="#ffffff" stroke={INK} strokeWidth={2} />
      <line x1={1392} x2={1471} y1={72} y2={72} stroke="#00FF00" strokeWidth={5} />
      <text x={1477} y={90} fontSize={56} {...txt}>Total number of SVs</text>

      {/* position error legend */}
      <rect x={894} y={735} width={1849} height={71} fill="#ffffff" stroke={INK} strokeWidth={2} />
      <circle cx={942} cy={770} r={3.3} fill="none" stroke={EAST} strokeWidth={4.4} />
      <text x={990} y={790} fontSize={53} {...txt}>East</text>
      <circle cx={1151} cy={770} r={3.3} fill="none" stroke={NORTH} strokeWidth={4.4} />
      <text x={1199} y={790} fontSize={53} {...txt}>North</text>
      <circle cx={1385} cy={770} r={3.3} fill="none" stroke={UP} strokeWidth={4.4} />
      <text x={1434} y={790} fontSize={53} {...txt}>Up</text>
      <rect x={1517} y={747} width={79} height={45} fill="#E7C7CB" />
      <text x={1605} y={790} fontSize={53} {...txt}>DNGSS</text>
      <rect x={1809} y={747} width={78} height={45} fill="#F7F0B8" />
      <text x={1896} y={790} fontSize={53} {...txt}>PPP-RTK Float</text>
      <rect x={2274} y={747} width={80} height={45} fill="#B3F9DC" />
      <text x={2362} y={790} fontSize={53} {...txt}>PPP-RTK Fixed</text>
    </svg>
  );
}

export default function App() {
  return (
    <div style={{ position: 'absolute', left: 0, top: 0, width: PAGE_W, height: PAGE_H, background: '#ffffff', overflow: 'hidden' }}>
      <div style={{ position: 'absolute', left: 0, top: 0 }}>
        <GdopPanel />
      </div>
      <div style={{ position: 'absolute', left: 0, top: 399 }}>
        <SatPanel />
      </div>
      <div style={{ position: 'absolute', left: 0, top: 646 }}>
        <ErrorPanel />
      </div>
      <Overlay />
    </div>
  );
}
